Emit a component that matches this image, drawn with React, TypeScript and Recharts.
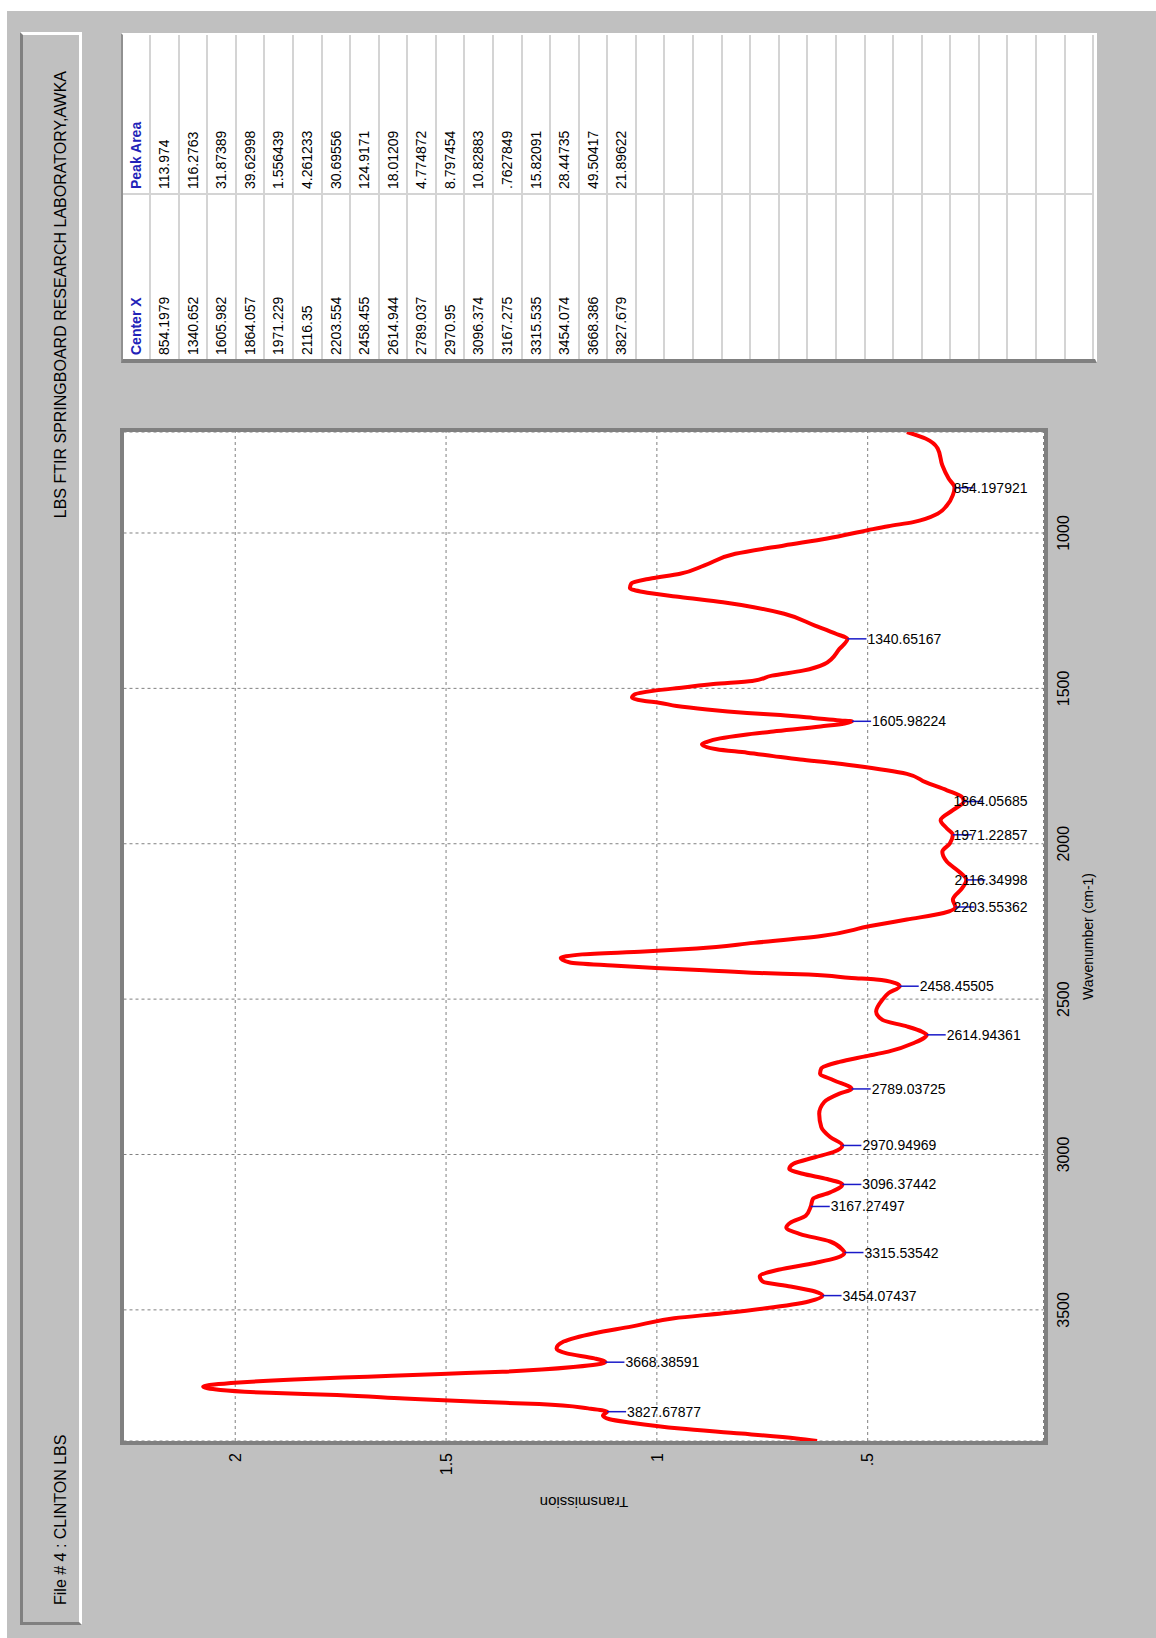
import React from 'react';
import { ComposedChart, Line, Scatter, XAxis, YAxis, CartesianGrid } from 'recharts';

// sampled spectrum (wavenumber cm-1 / transmission), peak points are merged in below
const wavenumbers = [
  675, 696, 728, 782, 825, 878, 911, 938, 965, 978, 991, 1018, 1040, 1067, 1104, 1131, 1147, 1163, 1177,
  1190, 1206, 1223, 1239, 1260, 1298, 1325, 1373, 1422, 1443, 1459, 1476, 1486, 1497, 1508, 1519, 1530,
  1540, 1546, 1557, 1568, 1579, 1586, 1595, 1603, 1623, 1639, 1650, 1661, 1672, 1680, 1696, 1707, 1718,
  1729, 1740, 1748, 1775, 1802, 1828, 1850, 1892, 1924, 1951, 1999, 2026, 2058, 2090, 2143, 2180, 2223,
  2244, 2265, 2297, 2319, 2337, 2347, 2356, 2368, 2382, 2392, 2400, 2407, 2416, 2421, 2432, 2437, 2448,
  2481, 2502, 2540, 2567, 2588, 2605, 2642, 2669, 2685, 2702, 2723, 2739, 2761, 2804, 2831, 2869, 2912,
  2944, 2992, 3009, 3030, 3046, 3062, 3079, 3122, 3143, 3197, 3219, 3235, 3256, 3280, 3306, 3333, 3349,
  3371, 3392, 3409, 3425, 3441, 3473, 3495, 3511, 3527, 3554, 3575, 3602, 3624, 3640, 3656, 3683, 3699,
  3706, 3715, 3724, 3734, 3747, 3758, 3767, 3774, 3785, 3796, 3803, 3817, 3840, 3852, 3863, 3882, 3898,
  3914, 3922,
];
const transmission = [
  0.407, 0.363, 0.334, 0.323, 0.308, 0.298, 0.312, 0.334, 0.392, 0.451, 0.5, 0.596, 0.698, 0.814, 0.887,
  0.945, 1.017, 1.061, 1.064, 1.032, 0.945, 0.843, 0.77, 0.698, 0.625, 0.574, 0.567, 0.603, 0.654, 0.727,
  0.774, 0.866, 0.937, 1.009, 1.052, 1.059, 1.032, 0.995, 0.953, 0.881, 0.786, 0.707, 0.629, 0.565, 0.612,
  0.724, 0.795, 0.85, 0.881, 0.893, 0.858, 0.786, 0.724, 0.66, 0.581, 0.534, 0.407, 0.363, 0.312, 0.276,
  0.298, 0.327, 0.312, 0.305, 0.323, 0.312, 0.283, 0.276, 0.298, 0.32, 0.407, 0.494, 0.61, 0.77, 0.905,
  1.03, 1.177, 1.228, 1.206, 1.105, 1.003, 0.887, 0.756, 0.64, 0.538, 0.48, 0.436, 0.451, 0.465, 0.48,
  0.465, 0.407, 0.371, 0.392, 0.451, 0.509, 0.567, 0.61, 0.613, 0.581, 0.567, 0.603, 0.615, 0.61, 0.589,
  0.581, 0.625, 0.676, 0.686, 0.654, 0.596, 0.589, 0.63, 0.647, 0.683, 0.693, 0.66, 0.589, 0.56, 0.574,
  0.625, 0.712, 0.756, 0.749, 0.683, 0.625, 0.64, 0.742, 0.843, 0.959, 1.061, 1.148, 1.221, 1.238, 1.214,
  1.148, 1.192, 1.366, 1.512, 1.686, 1.86, 1.991, 2.076, 2.035, 1.919, 1.759, 1.599, 1.424, 1.279, 1.163,
  1.128, 1.112, 1.061, 0.945, 0.8, 0.669, 0.62,
];

// picked peaks
const peakCenters = [
  854.197921, 1340.65167, 1605.98224, 1864.05685, 1971.22857, 2116.34998, 2203.55362, 2458.45505,
  2614.94361, 2789.03725, 2970.94969, 3096.37442, 3167.27497, 3315.53542, 3454.07437, 3668.38591,
  3827.67877,
];
const peakTransmission = [
  0.294, 0.548, 0.537, 0.272, 0.298, 0.266, 0.292, 0.424, 0.36, 0.538, 0.56, 0.56, 0.635, 0.555, 0.607,
  1.122, 1.118,
];

// peak table
const tableCenterX = [
  '854.1979', '1340.652', '1605.982', '1864.057', '1971.229', '2116.35', '2203.554', '2458.455', '2614.944',
  '2789.037', '2970.95', '3096.374', '3167.275', '3315.535', '3454.074', '3668.386', '3827.679',
];
const tablePeakArea = [
  '113.974', '116.2763', '31.87389', '39.62998', '1.556439', '4.261233', '30.69556', '124.9171', '18.01209',
  '4.774872', '8.797454', '10.82883', '.7627849', '15.82091', '28.44735', '49.50417', '21.89622',
];

const wavenumberTicks = [1000, 1500, 2000, 2500, 3000, 3500];
const transmissionTicks = [0.5, 1, 1.5, 2];

const peaks = peakCenters.map((wn, i) => ({ wn, t: peakTransmission[i] }));
const spectrum = wavenumbers
  .map((wn, i) => ({ wn, t: transmission[i] }))
  .concat(peaks)
  .sort((a, b) => a.wn - b.wn);

const FONT = 'Arial, "Liberation Sans", sans-serif';
// the sheet is laid out in landscape and turned a quarter turn
const W = 1638;
const H = 1156;
const PLOT = { left: 197, top: 123.5, right: 1206, bottom: 1043.5 };
const TABLE_ROWS = 34;

const ctx = typeof document !== 'undefined' ? document.createElement('canvas').getContext('2d') : null;
const labelWidth = (s: string) => {
  if (!ctx) return s.length * 7.5;
  ctx.font = `14px ${FONT}`;
  return ctx.measureText(s).width;
};

const PeakMark = (props: any) => {
  const { cx, cy, payload } = props;
  const label = String(payload.wn);
  const start = Math.min(cy + 20, PLOT.bottom - 16 - labelWidth(label));
  return (
    <g>
      <line x1={cx} y1={cy} x2={cx} y2={cy + 19} stroke='#1a1ac8' strokeWidth={1.5} />
      <text
        x={cx}
        y={start}
        transform={`rotate(90 ${cx} ${start})`}
        fontSize={14}
        fontFamily={FONT}
        fill='#000'
        dominantBaseline='central'
      >
        {label}
      </text>
    </g>
  );
};

const fmtT = (v: number) => String(v).replace(/^0\./, '.');

const PeakTable = () => {
  const rows = [['Center X', 'Peak Area']].concat(tableCenterX.map((c, i) => [c, tablePeakArea[i]]));
  while (rows.length < TABLE_ROWS) rows.push(['', '']);
  const rowH = (976 - 4) / TABLE_ROWS;
  return (
    <div
      style={{
        position: 'absolute',
        left: 1275,
        top: 120.5,
        width: 330,
        height: 976,
        boxSizing: 'border-box',
        background: '#fff',
        borderLeft: '4px solid #808080',
        borderTop: '2px solid #909090',
        borderRight: '2px solid #fff',
        borderBottom: '2px solid #fff',
      }}
    >
      {rows.map((r, i) => (
        <div key={i} style={{ display: 'flex', height: rowH, boxSizing: 'border-box', borderBottom: '2px solid #d4d4d4' }}>
          {r.map((cell, j) => (
            <div
              key={j}
              style={{
                width: j === 0 ? 166 : 158,
                boxSizing: 'border-box',
                borderRight: j === 0 ? '2px solid #d4d4d4' : 'none',
                paddingLeft: 4,
                fontSize: 14,
                lineHeight: `${rowH - 2}px`,
                color: i === 0 ? '#2222b8' : '#000',
                fontWeight: i === 0 ? 'bold' : 'normal',
                whiteSpace: 'nowrap',
              }}
            >
              {cell}
            </div>
          ))}
        </div>
      ))}
    </div>
  );
};

const App = () => (
  <div style={{ position: 'absolute', left: 0, top: 0, width: 1156, height: 1638, overflow: 'hidden', background: '#fff' }}>
    <div
      style={{
        position: 'absolute',
        left: 0,
        top: 0,
        width: W,
        height: H,
        transformOrigin: '0 0',
        transform: `translateY(${W}px) rotate(-90deg)`,
        fontFamily: FONT,
      }}
    >
      <div style={{ position: 'absolute', left: 0, top: 7, width: W - 11, height: H - 7, background: '#c0c0c0' }} />

      {/* header strip */}
      <div
        style={{
          position: 'absolute',
          left: 13,
          top: 20,
          width: 1593,
          height: 62,
          boxSizing: 'border-box',
          borderTop: '3px solid #808080',
          borderLeft: '3px solid #808080',
          borderBottom: '3px solid #fff',
          borderRight: '3px solid #fff',
        }}
      >
        <div style={{ position: 'absolute', left: 17, top: 29, fontSize: 16, lineHeight: '18px', color: '#000' }}>
          File # 4 : CLINTON LBS
        </div>
        <div style={{ position: 'absolute', right: 36, top: 29, fontSize: 16, lineHeight: '18px', color: '#000' }}>
          LBS FTIR SPRINGBOARD RESEARCH LABORATORY,AWKA
        </div>
      </div>

      {/* plot frame */}
      <div
        style={{
          position: 'absolute',
          left: PLOT.left - 4,
          top: PLOT.top - 4,
          width: PLOT.right - PLOT.left + 8,
          height: PLOT.bottom - PLOT.top + 8,
          boxSizing: 'border-box',
          border: '4px solid #808080',
          background: '#fff',
        }}
      />

      <div style={{ position: 'absolute', left: 0, top: 0 }}>
        <ComposedChart
          width={W}
          height={H}
          data={spectrum}
          margin={{ top: PLOT.top, right: W - PLOT.right, bottom: H - PLOT.bottom - 30, left: PLOT.left - 60 }}
        >
          <CartesianGrid strokeDasharray='3 3' stroke='#808080' />
          <XAxis
            type='number'
            dataKey='wn'
            domain={[675, 3922]}
            reversed
            allowDataOverflow
            ticks={wavenumberTicks}
            interval={0}
            height={30}
            axisLine={false}
            tickLine={false}
            tickSize={0}
            tickMargin={14}
            tick={{ fontSize: 16, fill: '#000', fontFamily: FONT }}
          />
          <YAxis
            type='number'
            domain={[0.083, 2.265]}
            allowDataOverflow
            ticks={transmissionTicks}
            interval={0}
            width={60}
            axisLine={false}
            tickLine={false}
            tickSize={0}
            tickMargin={12}
            tickFormatter={fmtT}
            tick={{ fontSize: 16, fill: '#000', fontFamily: FONT }}
          />
          <Line
            type='monotone'
            dataKey='t'
            stroke='#ff0000'
            strokeWidth={4}
            strokeLinejoin='round'
            dot={false}
            isAnimationActive={false}
          />
          <Scatter data={peaks} dataKey='t' shape={PeakMark} isAnimationActive={false} />
        </ComposedChart>
      </div>

      <div
        style={{
          position: 'absolute',
          left: PLOT.left,
          width: PLOT.right - PLOT.left,
          top: 1080,
          textAlign: 'center',
          fontSize: 14,
          lineHeight: '16px',
          color: '#000',
        }}
      >
        Wavenumber (cm-1)
      </div>
      <div
        style={{
          position: 'absolute',
          left: 36,
          top: (PLOT.top + PLOT.bottom) / 2 - 9,
          width: 200,
          height: 18,
          textAlign: 'center',
          fontSize: 15,
          lineHeight: '18px',
          color: '#000',
          transform: 'rotate(-90deg)',
        }}
      >
        Transmission
      </div>

      <PeakTable />
    </div>
  </div>
);

export default App;
